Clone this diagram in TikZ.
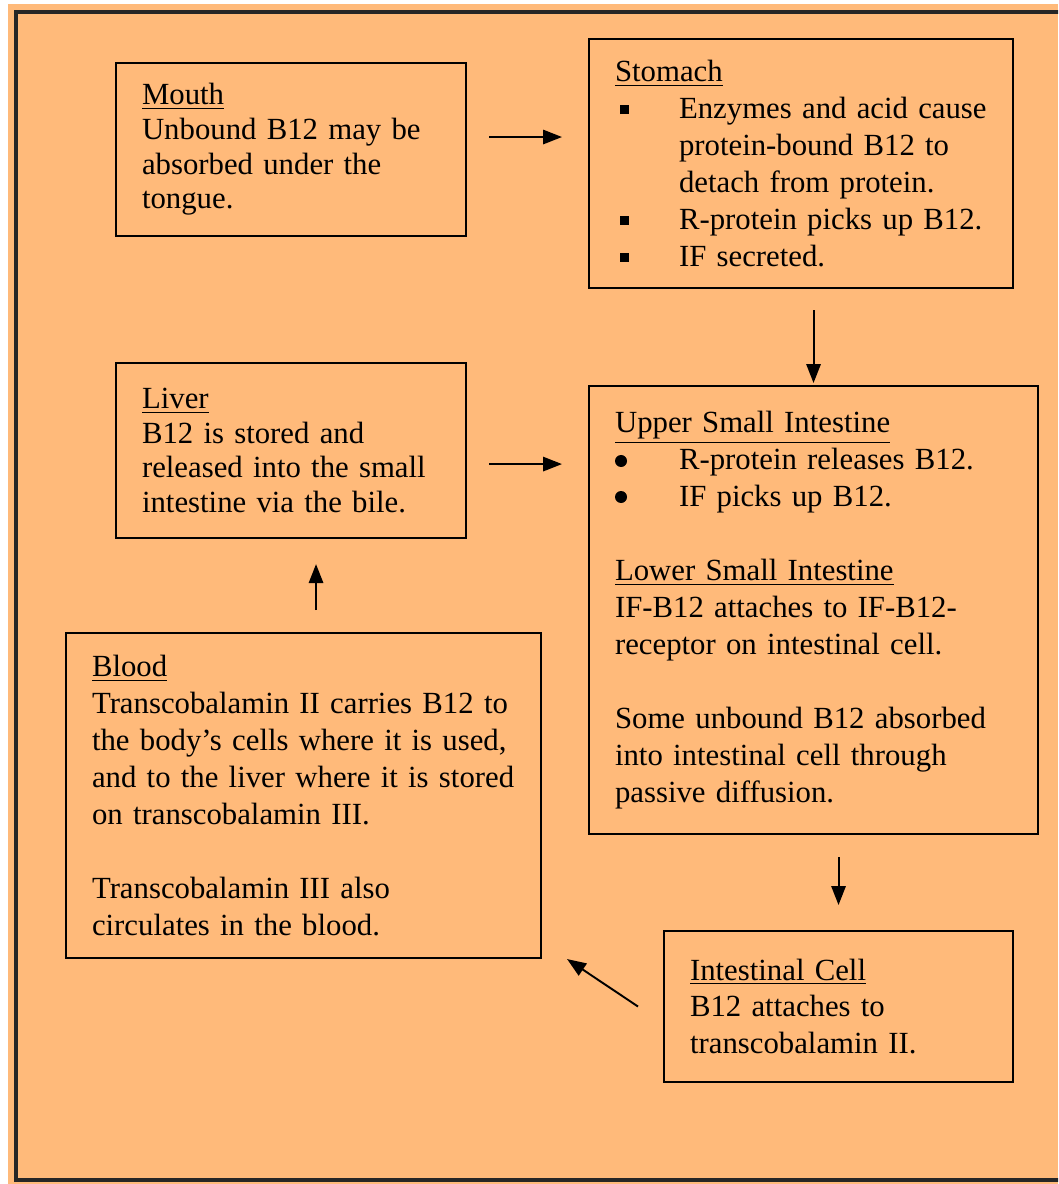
\documentclass[tikz,border=0pt]{standalone}
\usepackage{fontspec}
\setmainfont{Liberation Serif}
\usepackage{xcolor}
\usetikzlibrary{arrows.meta, positioning, calc}
\newlength\px
\setlength\px{0.39pt}
\definecolor{peach}{RGB}{255,186,122}
\newcommand{\sqitem}{\makebox[64\px][l]{\hspace{5\px}\raisebox{1.7pt}{\rule{3.6pt}{3.6pt}}}}
\newcommand{\contline}{\hspace*{64\px}}
\tikzset{
  box/.style={rectangle, draw=black, line width=0.8pt, anchor=north west,
    align=left, inner xsep=26\px, inner ysep=0pt,
    font=\fontsize{12pt}{14.4pt}\selectfont},
  tightbox/.style={box, font=\fontsize{12pt}{13.5pt}\selectfont},
  arrow/.style={-{Triangle[length=7.4pt, width=5.6pt]}, line width=0.75pt}
}
\begin{document}
\begin{tikzpicture}[x=\px, y=-\px]
\clip (0,0) rectangle (1058,1184);
\fill[white] (0,0) rectangle (1058,1184);
\fill[peach] (8,4) rectangle (1058,1184);
\draw[line width=1.2pt, black!85] (16,12) rectangle (1080,1180);

\node (mouth)   [tightbox, text width=298\px, minimum height=173\px] at (115,62)
  {\underline{Mouth}\\
   Unbound B12 may be\\
   absorbed under the\\
   tongue.};
\node (stomach) [box, text width=372\px, minimum height=249\px] at (588,38)
  {\underline{Stomach}\\
   \sqitem Enzymes and acid cause\\
   \contline protein-bound B12 to\\
   \contline detach from protein.\\
   \sqitem R-protein picks up B12.\\
   \sqitem IF secreted.};
\node (liver)   [tightbox, text width=298\px, minimum height=175\px, below=125\px of mouth]
  {\underline{Liver}\\
   B12 is stored and\\
   released into the small\\
   intestine via the bile.};
\node (upper)   [box, text width=397\px, minimum height=448\px] at (588,385)
  {\underline{Upper Small Intestine}\\
   \contline R-protein releases B12.\\
   \contline IF picks up B12.\\[14.4pt]
   \underline{Lower Small Intestine}\\
   IF-B12 attaches to IF-B12-\\
   receptor on intestinal cell.\\[14.4pt]
   Some unbound B12 absorbed\\
   into intestinal cell through\\
   passive diffusion.};
\node (blood)   [box, text width=423\px, minimum height=325\px] at (65,632)
  {\underline{Blood}\\
   Transcobalamin II carries B12 to\\
   the body's cells where it is used,\\
   and to the liver where it is stored\\
   on transcobalamin III.\\[14.4pt]
   Transcobalamin III also\\
   circulates in the blood.};
\node (cell)    [box, text width=297\px, minimum height=151\px] at (663,930)
  {\underline{Intestinal Cell}\\
   B12 attaches to\\
   transcobalamin II.};

% round bullets of the upper small intestine
\foreach \dy in {76,112}
  \fill ($(upper.north west)+(33,\dy)$) circle (6\px);

% the path of B12
\draw [arrow, shorten <=22\px, shorten >=26\px]
  ([yshift=12.5\px]mouth.east) -- ([yshift=12.5\px]mouth.east -| stomach.west);
\draw [arrow, shorten <=21\px, shorten >=2\px] (stomach.south -| upper.north) -- (upper.north);
\draw [arrow, shorten <=22\px, shorten >=25\px] (upper.south -| cell.north) -- (cell.north);
\draw [arrow, shorten <=0pt] ([xshift=-25\px]cell.west) -- ([xshift=25\px]blood.south east);
\draw [arrow, shorten <=22\px, shorten >=25\px]
  ([xshift=12.5\px]blood.north) -- ([xshift=12.5\px]blood.north |- liver.south);
\draw [arrow, shorten <=22\px, shorten >=26\px]
  ([yshift=-13.5\px]liver.east) -- ([yshift=-13.5\px]liver.east -| upper.west);
\end{tikzpicture}
\end{document}
